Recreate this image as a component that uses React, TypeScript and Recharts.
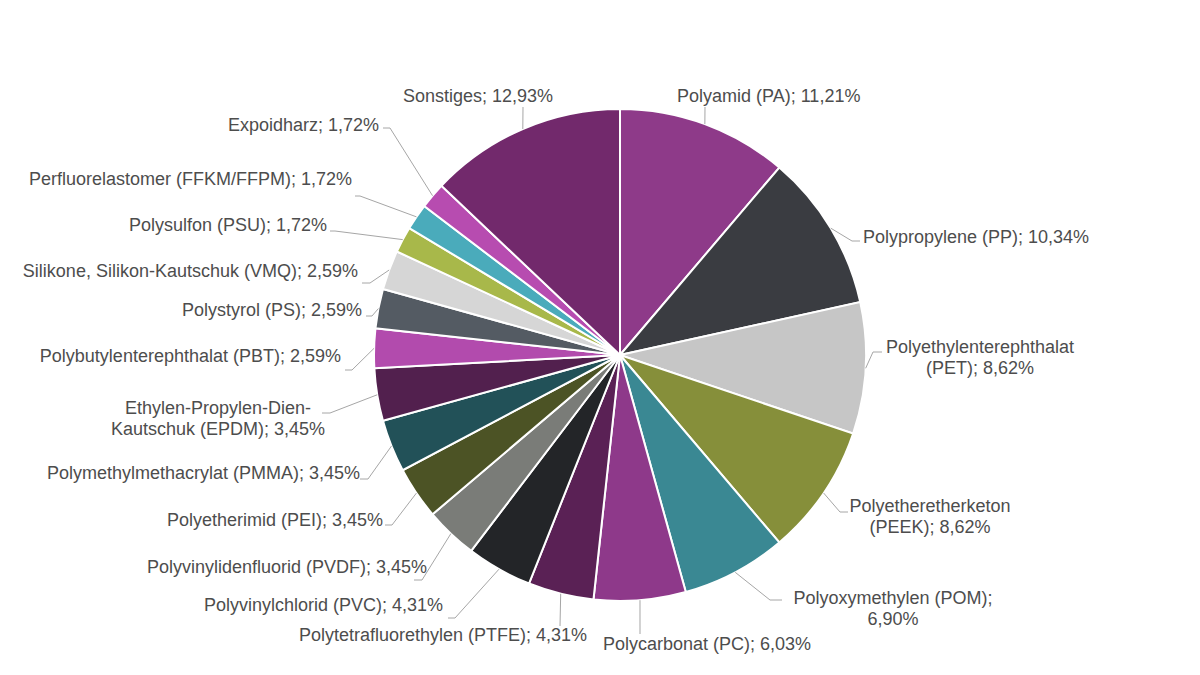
import { PieChart, Pie, Cell } from 'recharts';

const NAMES = [
  'Polyamid (PA)',
  'Polypropylene (PP)',
  'Polyethylenterephthalat (PET)',
  'Polyetheretherketon (PEEK)',
  'Polyoxymethylen (POM)',
  'Polycarbonat (PC)',
  'Polytetrafluorethylen (PTFE)',
  'Polyvinylchlorid (PVC)',
  'Polyvinylidenfluorid (PVDF)',
  'Polyetherimid (PEI)',
  'Polymethylmethacrylat (PMMA)',
  'Ethylen-Propylen-Dien-Kautschuk (EPDM)',
  'Polybutylenterephthalat (PBT)',
  'Polystyrol (PS)',
  'Silikone, Silikon-Kautschuk (VMQ)',
  'Polysulfon (PSU)',
  'Perfluorelastomer (FFKM/FFPM)',
  'Expoidharz',
  'Sonstiges',
];

const SHARES = [
  11.21, 10.34, 8.62, 8.62, 6.9, 6.03, 4.31, 4.31, 3.45, 3.45, 3.45, 3.45, 2.59, 2.59, 2.59, 1.72, 1.72,
  1.72, 12.93,
];

const COLORS = [
  '#8E3A89', '#3A3C41', '#C6C6C6', '#868F3A', '#3A8893', '#8E398A', '#5A2155', '#232528', '#7A7C78',
  '#4C5325', '#225158', '#52204E', '#B24BAD', '#545B63', '#D6D6D6', '#A8B84A', '#4AABBB', '#B74CB0',
  '#72296C',
];

const data = NAMES.map((name, i) => ({ name, value: SHARES[i] }));

// label placement (text anchor, leader line elbow + end), Excel-style
type LabelPos = {
  x: number;
  y: number;
  anchor: 'start' | 'middle' | 'end';
  pts: [number, number][];
  breakAfter?: string;
};

const LABEL_POS: LabelPos[] = [
  { x: 677, y: 96, anchor: 'start', pts: [[705, 107]] },
  { x: 863, y: 237, anchor: 'start', pts: [[852, 241], [860, 241]] },
  { x: 980, y: 347, anchor: 'middle', pts: [[873, 352], [882, 352]], breakAfter: 'Polyethylenterephthalat' },
  { x: 930, y: 506, anchor: 'middle', pts: [[840, 512], [848, 512]], breakAfter: 'Polyetheretherketon' },
  { x: 893, y: 598, anchor: 'middle', pts: [[770, 600], [782, 600]], breakAfter: '(POM);' },
  { x: 603, y: 644, anchor: 'start', pts: [[640, 634]] },
  { x: 587, y: 635, anchor: 'end', pts: [[560, 626]] },
  { x: 443, y: 605, anchor: 'end', pts: [[455, 618], [448, 618]] },
  { x: 427, y: 567, anchor: 'end', pts: [[422, 580], [414, 580]] },
  { x: 383, y: 520, anchor: 'end', pts: [[392, 525], [385, 525]] },
  { x: 360, y: 473, anchor: 'end', pts: [[368, 479], [360, 479]] },
  { x: 218, y: 408, anchor: 'middle', pts: [[330, 413], [322, 413]], breakAfter: 'Dien-' },
  { x: 341, y: 356, anchor: 'end', pts: [[352, 370], [345, 370]] },
  { x: 362, y: 310, anchor: 'end', pts: [[372, 316], [366, 316]] },
  { x: 358, y: 271, anchor: 'end', pts: [[370, 283], [362, 283]] },
  { x: 327, y: 225, anchor: 'end', pts: [[335, 231], [330, 231]] },
  { x: 352, y: 179, anchor: 'end', pts: [[360, 196], [355, 196]] },
  { x: 379, y: 125, anchor: 'end', pts: [[390, 128], [383, 128]] },
  { x: 478, y: 96, anchor: 'middle', pts: [[523, 107]] },
];

const RADIAN = Math.PI / 180;
const fmt = (v: number) => v.toFixed(2).replace('.', ',') + '%';

function renderLabel(props: any) {
  const { cx, cy, midAngle, outerRadius, index } = props;
  const pos = LABEL_POS[index];
  const sx = cx + outerRadius * Math.cos(-midAngle * RADIAN);
  const sy = cy + outerRadius * Math.sin(-midAngle * RADIAN);
  const full = `${NAMES[index]}; ${fmt(SHARES[index])}`;
  let lines = [full];
  if (pos.breakAfter) {
    const k = full.indexOf(pos.breakAfter) + pos.breakAfter.length;
    lines = [full.slice(0, k), full.slice(k).trim()];
  }
  const points = [[sx, sy], ...pos.pts].map((p) => p.join(',')).join(' ');
  return (
    <g key={`lbl-${index}`}>
      <polyline points={points} fill="none" stroke="#A6A6A6" strokeWidth={1} />
      <text
        x={pos.x}
        y={pos.y}
        textAnchor={pos.anchor}
        dominantBaseline="central"
        fill="#4D4D4D"
        fontSize={18}
        fontFamily="'Liberation Sans', Arial, sans-serif"
      >
        {lines.map((l, i) => (
          <tspan key={i} x={pos.x} dy={i === 0 ? 0 : 21}>
            {l}
          </tspan>
        ))}
      </text>
    </g>
  );
}

export default function App() {
  return (
    <div style={{ position: 'absolute', left: 0, top: 0, width: 1200, height: 675, background: '#fff' }}>
      <PieChart width={1200} height={675} margin={{ top: 0, right: 0, bottom: 0, left: 0 }}>
        <Pie
          data={data}
          dataKey="value"
          nameKey="name"
          cx={620}
          cy={355}
          outerRadius={246}
          startAngle={90}
          endAngle={-270}
          stroke="#fff"
          strokeWidth={2}
          label={renderLabel}
          labelLine={false}
          isAnimationActive={false}
        >
          {data.map((_, i) => (
            <Cell key={`cell-${i}`} fill={COLORS[i]} />
          ))}
        </Pie>
      </PieChart>
    </div>
  );
}
